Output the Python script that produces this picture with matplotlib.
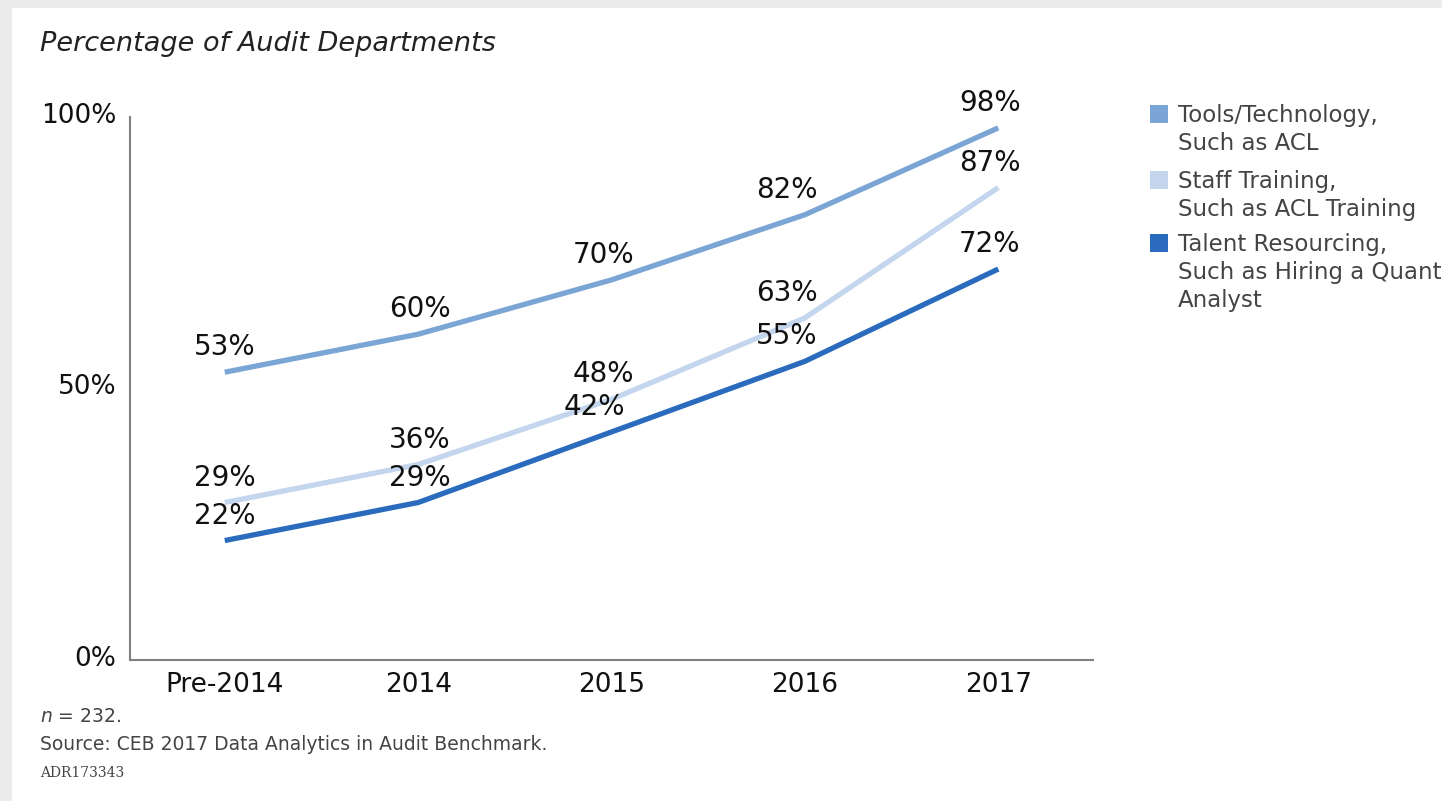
import matplotlib.pyplot as plt
import matplotlib.transforms as mtransforms
from matplotlib.patches import Rectangle

categories = ["Pre-2014", "2014", "2015", "2016", "2017"]
tools = [53, 60, 70, 82, 98]
staff = [29, 36, 48, 63, 87]
talent = [22, 29, 42, 55, 72]

series_names = ["Tools/Technology,\nSuch as ACL",
                "Staff Training,\nSuch as ACL Training",
                "Talent Resourcing,\nSuch as Hiring a Quant\nAnalyst"]
colors = ["#7aa5d4", "#c3d6ee", "#2a6bbd"]

# horizontal nudge of the value labels, in points, per category
label_dx = [0, 1, -6, -13, -6]

plt.rcParams['font.family'] = ['DejaVu Sans']

fig = plt.figure(figsize=(14.42, 8.01), dpi=100)
fig.patch.set_facecolor("#ececec")
fig.patches.append(Rectangle((12 / 1442, 0), 1, 1 - 8 / 801, transform=fig.transFigure,
                             facecolor="white", edgecolor="none", zorder=-10))

ax = fig.add_axes([130 / 1442, 1 - 660 / 801, (1093 - 130) / 1442, (660 - 117) / 801])
ax.set_facecolor("white")

x = list(range(len(categories)))
for vals, c in zip([tools, staff, talent], colors):
    ax.plot(x, vals, color=c, lw=3.8, solid_capstyle="butt", solid_joinstyle="round")
    for i, v in enumerate(vals):
        dx = label_dx[i] - (6 if (vals is talent and i == 2) else 0)
        ax.annotate(f"{v}%", (i, v), xytext=(dx, 18), textcoords="offset points",
                    ha="center", va="center", fontsize=20, color="#111111")

ax.set_xlim(-0.49, 4.49)
ax.set_ylim(0, 100)
ax.set_xticks(x)
ax.set_xticklabels(categories)
ax.set_yticks([0, 50, 100])
ax.set_yticklabels(["0%", "50%", "100%"])
ax.tick_params(length=0, labelsize=19, colors="#111111")
ax.tick_params(axis="x", pad=9)
ax.tick_params(axis="y", pad=10)
shift = mtransforms.ScaledTranslation(0, 4 / 100, fig.dpi_scale_trans)
for lbl in ax.get_yticklabels():
    lbl.set_transform(lbl.get_transform() + shift)
for s in ["top", "right"]:
    ax.spines[s].set_visible(False)
for s in ["left", "bottom"]:
    ax.spines[s].set_color("#808080")
    ax.spines[s].set_linewidth(1.5)

fig.text(40 / 1442, 1 - 44 / 801, "Percentage of Audit Departments", fontsize=19.5,
         style="italic", color="#222222", va="center")

# legend
legend_y = [116, 182, 245]
for name, c, y in zip(series_names, colors, legend_y):
    fig.patches.append(Rectangle((1150 / 1442, 1 - (y + 7) / 801), 18 / 1442, 18 / 801,
                                 transform=fig.transFigure, facecolor=c, edgecolor="none"))
    fig.text(1178 / 1442, 1 - (y - 12) / 801, name, fontsize=16.5, color="#444444",
             va="top", linespacing=1.27)

fig.text(40 / 1442, 1 - 717 / 801, r"$n$ = 232.", fontsize=13.5, color="#444444", va="center")
fig.text(40 / 1442, 1 - 745 / 801, "Source: CEB 2017 Data Analytics in Audit Benchmark.",
         fontsize=13.5, color="#444444", va="center")
fig.text(40 / 1442, 1 - 773 / 801, "ADR173343", fontsize=10, color="#444444", va="center",
         family="DejaVu Serif")

fig.savefig("out.png", dpi=100, facecolor=fig.get_facecolor())
